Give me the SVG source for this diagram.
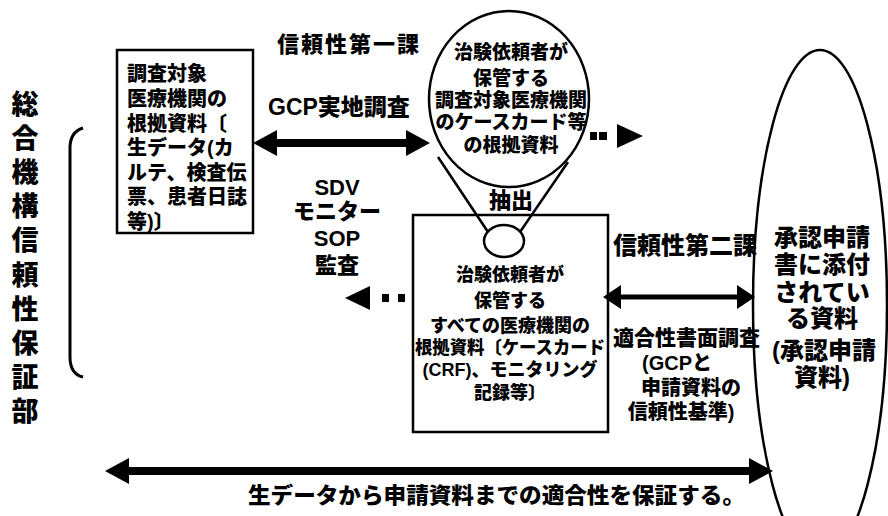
<svg xmlns="http://www.w3.org/2000/svg" width="888" height="516" viewBox="0 0 888 516">
<style>
text{font-family:"Liberation Sans","Noto Sans CJK JP",sans-serif;font-weight:900;fill:#000;dominant-baseline:central}
.c{text-anchor:middle}
.sh{fill:none;stroke:#000;stroke-width:2.5}
.thick{stroke:#000;stroke-width:8;fill:none}
.mid{stroke:#000;stroke-width:5;fill:none}
</style>
<defs>
<marker id="head" markerUnits="userSpaceOnUse" markerWidth="24" markerHeight="26" refX="12" refY="13" orient="auto-start-reverse" viewBox="0 0 24 26">
<path d="M0,0 L24,13 L0,26 z" fill="#000"/>
</marker>
<marker id="head2" markerUnits="userSpaceOnUse" markerWidth="18" markerHeight="24" refX="8" refY="12" orient="auto-start-reverse" viewBox="0 0 18 24">
<path d="M0,0 L18,12 L0,24 z" fill="#000"/>
</marker>
</defs>
<rect width="888" height="516" fill="#fff"/>

<g id="dept">
<text class="c" font-size="27"><tspan x="25" y="105">総</tspan><tspan x="25" y="139">合</tspan><tspan x="25" y="173">機</tspan><tspan x="25" y="207">構</tspan><tspan x="25" y="241">信</tspan><tspan x="25" y="276">頼</tspan><tspan x="25" y="310">性</tspan><tspan x="25" y="344">保</tspan><tspan x="25" y="378">証</tspan><tspan x="25" y="412">部</tspan></text>
<path d="M83,128 Q70,132 70,148 L70,357 Q70,374 83,377" fill="none" stroke="#000" stroke-width="3"/>
</g>

<g id="site-records">
<rect class="sh" x="117" y="50" width="136" height="183"/>
<text font-size="20"><tspan x="127" y="74">調査対象</tspan><tspan x="127" y="99">医療機関の</tspan><tspan x="127" y="124">根拠資料〔</tspan><tspan x="127" y="148">生データ(カ</tspan><tspan x="127" y="173">ルテ、検査伝</tspan><tspan x="127" y="197">票、患者日誌</tspan><tspan x="127" y="222">等)〕</tspan></text>
</g>

<g id="sponsor-site-records">
<ellipse class="sh" cx="509" cy="99" rx="80" ry="88"/>
<text class="c" font-size="19"><tspan x="511" y="52">治験依頼者が</tspan><tspan x="511" y="78">保管する</tspan><tspan x="511" y="100">調査対象医療機関</tspan><tspan x="511" y="122">のケースカード等</tspan><tspan x="511" y="145">の根拠資料</tspan></text>
</g>

<g id="sponsor-all-records">
<rect class="sh" x="413" y="215" width="195" height="217"/>
<ellipse class="sh" cx="504" cy="241" rx="20" ry="16"/>
<text class="c" font-size="18"><tspan x="510" y="275">治験依頼者が</tspan><tspan x="510" y="301">保管する</tspan><tspan x="510" y="326">すべての医療機関の</tspan></text>
<text class="c" font-size="18" x="510" y="348" textLength="190" lengthAdjust="spacingAndGlyphs">根拠資料〔ケースカード</text>
<text class="c" font-size="18"><tspan x="510" y="370">(CRF)、モニタリング</tspan><tspan x="510" y="393">記録等〕</tspan></text>
</g>

<g id="application">
<ellipse class="sh" cx="820" cy="305" rx="67" ry="255"/>
<text class="c" font-size="24"><tspan x="822" y="237">承認申請</tspan><tspan x="822" y="264">書に添付</tspan><tspan x="822" y="292">されてい</tspan><tspan x="822" y="318">る資料</tspan><tspan x="824" y="350">(承認申請</tspan><tspan x="822" y="377">資料)</tspan></text>
</g>

<g id="connectors">
<line x1="438" y1="157" x2="488" y2="232" stroke="#000" stroke-width="2.5"/>
<line x1="568" y1="162" x2="520" y2="232" stroke="#000" stroke-width="2.5"/>
<line class="thick" x1="265" y1="143" x2="418" y2="143" marker-start="url(#head)" marker-end="url(#head)"/>
<line class="mid" x1="613" y1="297" x2="745" y2="297" marker-start="url(#head2)" marker-end="url(#head2)"/>
<line class="thick" x1="117" y1="471" x2="761" y2="471" marker-start="url(#head)" marker-end="url(#head)"/>
<rect x="382" y="294" width="7" height="8"/>
<rect x="398" y="294" width="7" height="8"/>
<path d="M345,298 L370,286 L370,310 z"/>
<rect x="590" y="132" width="7" height="8"/>
<rect x="599" y="132" width="8" height="8"/>
<path d="M643,136 L617,124 L617,148 z"/>
</g>

<g id="labels">
<text font-size="22" x="277" y="44" letter-spacing="2">信頼性第一課</text>
<text font-size="23" x="268" y="107">GCP実地調査</text>
<text class="c" font-size="22"><tspan x="337" y="187">SDV</tspan><tspan x="337" y="211">モニター</tspan><tspan x="337" y="238">SOP</tspan><tspan x="337" y="265">監査</tspan></text>
<text font-size="22" x="511" y="200" class="c">抽出</text>
<text font-size="24" x="613" y="245">信頼性第二課</text>
<text font-size="21" x="613" y="337">適合性書面調査</text>
<text class="c" font-size="20"><tspan x="677" y="363">(GCPと</tspan><tspan x="691" y="388">申請資料の</tspan><tspan x="681" y="412">信頼性基準)</tspan></text>
<text font-size="22" x="248" y="495" textLength="497" lengthAdjust="spacingAndGlyphs">生データから申請資料までの適合性を保証する。</text>
</g>
</svg>
